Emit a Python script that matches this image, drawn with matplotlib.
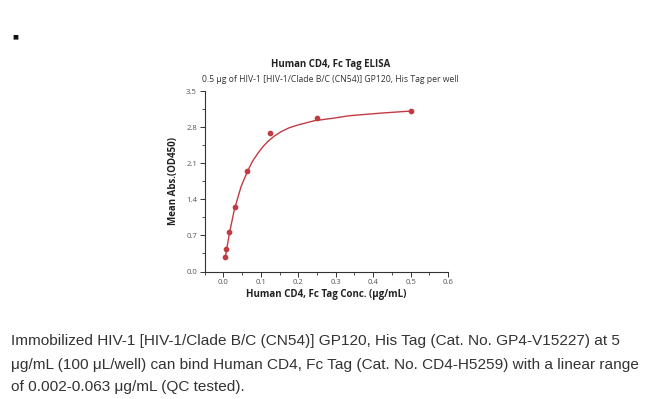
import matplotlib
matplotlib.use("Agg")
import matplotlib.pyplot as plt
from matplotlib.ticker import MultipleLocator, FormatStrFormatter

# Data
conc = [0.0039, 0.0078, 0.0156, 0.03125, 0.0625, 0.125, 0.25, 0.5]
od450 = [0.275, 0.436, 0.766, 1.25, 1.955, 2.68, 2.97, 3.11]

# Fitted curve, points
fit_x = [0.0039, 0.0053, 0.016, 0.029, 0.047, 0.065, 0.078, 0.092, 0.105, 0.118,
         0.135, 0.154, 0.175, 0.199, 0.243, 0.292, 0.337, 0.426, 0.502]
fit_y = [0.26, 0.287, 0.741, 1.193, 1.644, 1.955, 2.14, 2.292, 2.415, 2.517,
         2.62, 2.711, 2.785, 2.841, 2.924, 2.971, 3.021, 3.074, 3.112]

xticks = [0.0, 0.1, 0.2, 0.3, 0.4, 0.5, 0.6]
yticks = [0.0, 0.7, 1.4, 2.1, 2.8, 3.5]

title = "Human CD4, Fc Tag ELISA"
subtitle = "0.5 \u03bcg of HIV-1 [HIV-1/Clade B/C (CN54)] GP120, His Tag per well"
xlabel = "Human CD4, Fc Tag Conc. (\u03bcg/mL)"
ylabel = "Mean Abs.(OD450)"
caption = ["Immobilized HIV-1 [HIV-1/Clade B/C (CN54)] GP120, His Tag (Cat. No. GP4-V15227) at 5",
           "\u03bcg/mL (100 \u03bcL/well) can bind Human CD4, Fc Tag (Cat. No. CD4-H5259) with a linear range",
           "of 0.002-0.063 \u03bcg/mL (QC tested)."]

red = "#C23B43"
grey = "#555555"

plt.rcParams['font.family'] = ['Open Sans', 'DejaVu Sans']

fig = plt.figure(figsize=(6.5, 3.99), dpi=100)
ax = fig.add_axes([204.7 / 650, 1 - 271.5 / 399, (448 - 204.7) / 650, (271.5 - 91) / 399])

ax.plot(fit_x, fit_y, color=red, lw=1.0, solid_capstyle='round', solid_joinstyle='round')
ax.plot(conc, od450, 'o', color=red, ms=3.1, mec=red)

ax.set_xlim(-0.05, 0.6)
ax.set_ylim(0, 3.5)
ax.set_xticks(xticks)
ax.set_yticks(yticks)
ax.xaxis.set_minor_locator(MultipleLocator(0.05))
ax.yaxis.set_minor_locator(MultipleLocator(0.35))
ax.xaxis.set_major_formatter(FormatStrFormatter('%.1f'))
ax.yaxis.set_major_formatter(FormatStrFormatter('%.1f'))
for s in ['top', 'right']:
    ax.spines[s].set_visible(False)
for s in ['left', 'bottom']:
    ax.spines[s].set_color('#333333')
    ax.spines[s].set_linewidth(0.8)
ax.tick_params(which='major', direction='out', length=3.5, width=0.7, color='#333333',
               labelsize=5.6, labelcolor=grey, pad=2)
ax.tick_params(which='minor', direction='out', length=2, width=0.6, color='#333333')

ax.set_xlabel(xlabel, fontsize=7.0, fontweight='bold', color='#222222', labelpad=2)
ax.set_ylabel(ylabel, fontsize=7.0, fontweight='bold', color='#222222', labelpad=5)

fig.text(331 / 650, 1 - 65 / 399, title, ha='center', va='center', fontsize=6.9,
         fontweight='bold', color='#222222')
fig.text(330 / 650, 1 - 79.3 / 399, subtitle, ha='center', va='center', fontsize=6.2,
         color='#333333')

fig.text(15 / 650, 1 - 37 / 399, "\u25a0", ha='center', va='center', fontsize=4.5,
         color='#111111', family=['DejaVu Sans'])

cap_y = [341, 364.5, 387]
for line, yy in zip(caption, cap_y):
    fig.text(11 / 650, 1 - yy / 399, line, ha='left', va='center', fontsize=11.1,
             color='#333333', family=['Liberation Sans', 'DejaVu Sans'])

fig.savefig("out.png", dpi=100)
